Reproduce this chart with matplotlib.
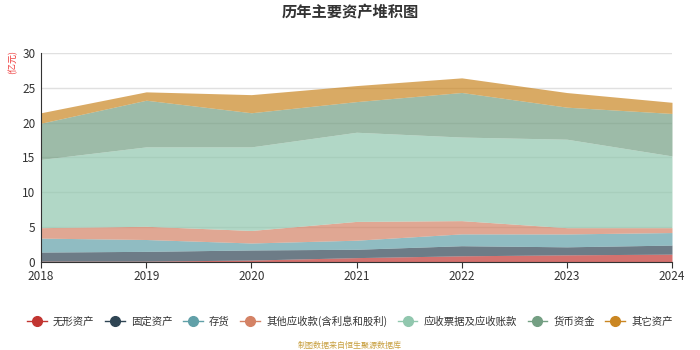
import numpy as np
import matplotlib.pyplot as plt
from matplotlib.lines import Line2D

plt.rcParams['font.family'] = ['Noto Sans CJK SC', 'DejaVu Sans']

years = ['2018', '2019', '2020', '2021', '2022', '2023', '2024']
names = ['无形资产', '固定资产', '存货', '其他应收款(含利息和股利)',
         '应收票据及应收账款', '货币资金', '其它资产']

# 亿元
intangible = [0.1, 0.1, 0.25, 0.6, 0.86, 1.0, 1.1]
fixed = [1.3, 1.4, 1.45, 1.2, 1.45, 1.15, 1.3]
inventory = [2.0, 1.7, 1.0, 1.3, 1.7, 1.85, 1.8]
other_recv = [1.5, 1.9, 1.8, 2.7, 1.9, 0.9, 0.7]
notes_recv = [9.8, 11.4, 12.0, 12.8, 12.0, 12.7, 10.3]
cash = [5.2, 6.7, 4.9, 4.4, 6.4, 4.6, 6.1]
other_assets = [1.5, 1.2, 2.6, 2.3, 2.1, 2.1, 1.6]

colors = ['#c23531', '#2f4554', '#61a0a8', '#d48265', '#91c7ae', '#749f83', '#ca8622']
series = [intangible, fixed, inventory, other_recv, notes_recv, cash, other_assets]

fig = plt.figure(figsize=(7, 3.5), dpi=100)
ax = fig.add_axes([0.0586, 0.252, 0.9014, 0.597])

x = np.arange(len(years))
base = np.zeros(len(years))
for vals, c in zip(series, colors):
    top = base + np.array(vals)
    ax.fill_between(x, base, top, color=c, alpha=0.7, linewidth=0, zorder=2)
    base = top

ax.set_xlim(0, len(years) - 1)
ax.set_ylim(0, 30)
ax.set_yticks(range(0, 31, 5))
ax.set_xticks(x)
ax.set_xticklabels(years)
ax.yaxis.grid(True, color='#e0e0e0', linewidth=1, zorder=0)
ax.set_axisbelow(True)
for s in ['top', 'right']:
    ax.spines[s].set_visible(False)
for s in ['left', 'bottom']:
    ax.spines[s].set_color('#333333')
ax.tick_params(axis='y', length=0, labelsize=8.5, labelcolor='#333333', pad=4)
ax.tick_params(axis='x', length=4, color='#333333', labelsize=8.5, labelcolor='#333333', pad=2)

fig.text(0.5, 0.965, '历年主要资产堆积图', ha='center', va='center',
         fontsize=11, fontweight='bold', color='#333333')
fig.text(0.018, 0.822, '(亿元)', rotation=90, ha='center', va='center',
         fontsize=6.5, color='#ee3333')

handles = [Line2D([0], [0], color=c, marker='o', markersize=7, linewidth=1)
           for c in colors]
fig.legend(handles, names, loc='center', bbox_to_anchor=(0.5, 0.083), ncol=7,
           frameon=False, fontsize=7.5, handlelength=1.9, handletextpad=0.6,
           columnspacing=1.0, labelcolor='#333333')
fig.text(0.5, 0.013, '制图数据来自恒生聚源数据库', ha='center', va='center',
         fontsize=5.8, color='#c8a040')

fig.savefig('out.png', dpi=100)
